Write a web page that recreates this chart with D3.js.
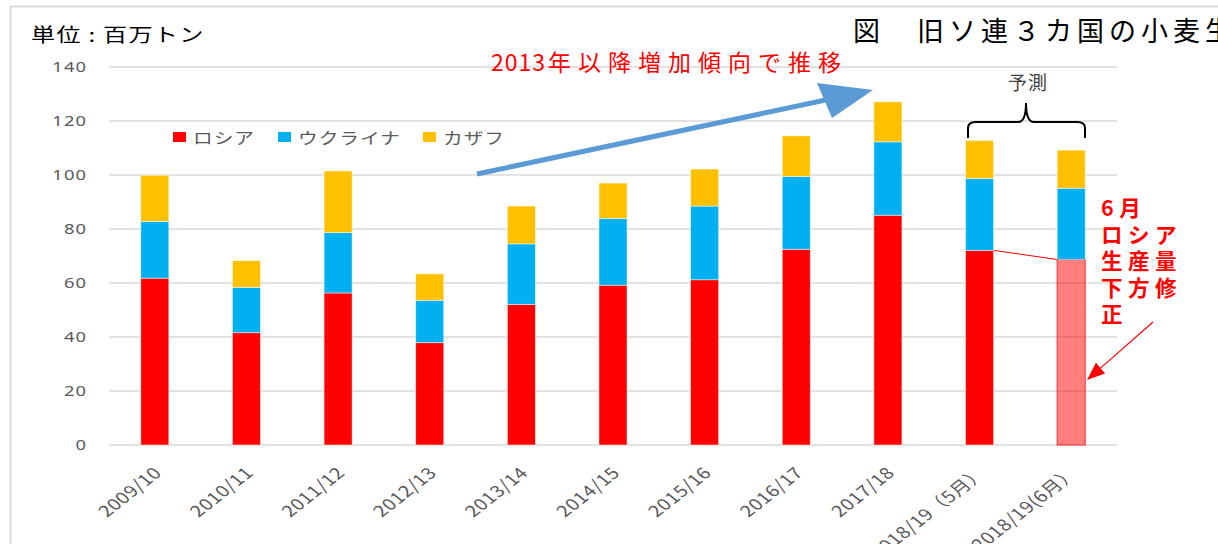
<!DOCTYPE html>
<html>
<head>
<meta charset="utf-8">
<script src="https://cdn.jsdelivr.net/npm/d3@7"></script>
<style>
  body { margin: 0; background: #fff; }
  svg { display: block; font-family: "Noto Sans CJK JP", "Noto Sans", sans-serif; }
</style>
</head>
<body>
<svg id="chart" width="1218" height="544"></svg>
<script>
// data (million tonnes)
const categories = ['2009/10', '2010/11', '2011/12', '2012/13', '2013/14', '2014/15',
  '2015/16', '2016/17', '2017/18', '2018/19（5月）', '2018/19(6月）'];
const russia     = [61.8, 41.6, 56.3, 37.9, 52.1, 59.2, 61.2, 72.5, 85.1, 72.1, 68.7];
const ukraine    = [21.0, 16.8, 22.4, 15.7, 22.4, 24.7, 27.3, 27.0, 27.2, 26.6, 26.4];
const kazakhstan = [17.1,  9.9, 22.8,  9.8, 14.0, 13.1, 13.7, 15.0, 14.8, 14.1, 14.1];
const seriesNames = ['ロシア', 'ウクライナ', 'カザフ'];
const yTicks = [0, 20, 40, 60, 80, 100, 120, 140];

const colors = ['#ff0000', '#00b0f0', '#ffc000'];
const sx = 1.27; // chart text is stretched sideways in the original
const svg = d3.select('#chart');

const table = categories.map((c, i) => ({
  cat: c, ロシア: russia[i], ウクライナ: ukraine[i], カザフ: kazakhstan[i]
}));
const stacked = d3.stack().keys(seriesNames)(table);

const x = d3.scaleBand()
  .domain(categories)
  .range([109, 1117])
  .paddingInner(0.694)
  .paddingOuter(0.347);
const y = d3.scaleLinear().domain([0, 140]).range([445, 67]);
const bw = x.bandwidth();

// frame
svg.append('line').attr('x1', 10).attr('x2', 1218).attr('y1', 6.5).attr('y2', 6.5)
  .attr('stroke', '#d9d9d9').attr('stroke-width', 2);
svg.append('line').attr('x1', 10.5).attr('x2', 10.5).attr('y1', 6).attr('y2', 544)
  .attr('stroke', '#d9d9d9').attr('stroke-width', 2);

// grid
svg.append('g').selectAll('line')
  .data(yTicks)
  .join('line')
    .attr('x1', 109).attr('x2', 1117)
    .attr('y1', d => y(d)).attr('y2', d => y(d))
    .attr('stroke', '#d9d9d9').attr('stroke-width', 1.5);

// y axis labels
svg.append('g').selectAll('text')
  .data(yTicks)
  .join('text')
    .attr('transform', d => `translate(87,${y(d)}) scale(${sx},1)`)
    .attr('text-anchor', 'end')
    .attr('dy', '0.35em')
    .attr('fill', '#595959')
    .style('font-size', '14.5px')
    .style('letter-spacing', '0.8px')
    .style('font-family', '"Noto Sans", sans-serif')
    .text(d => d);

// bars
const layers = svg.append('g').selectAll('g')
  .data(stacked)
  .join('g')
    .attr('fill', (d, i) => colors[i]);

layers.selectAll('rect')
  .data(d => d)
  .join('rect')
    .attr('x', d => x(d.data.cat))
    .attr('y', d => y(d[1]))
    .attr('width', bw)
    .attr('height', d => y(d[0]) - y(d[1]))
    .attr('stroke', 'rgba(255,255,255,0.6)')
    .attr('stroke-width', 0.8);

// revised Russia bar (June)
const last = categories[categories.length - 1];
layers.filter((d, i) => i === 0).selectAll('rect')
  .filter(d => d.data.cat === last)
  .attr('fill', 'rgba(255,0,0,0.5)')
  .attr('stroke', '#ff3030')
  .attr('stroke-width', 1);

// x labels
svg.append('g').selectAll('text')
  .data(categories)
  .join('text')
    .attr('transform', d => `translate(${x(d) + bw / 2 + 3},470) scale(${sx},1) rotate(-45)`)
    .attr('text-anchor', 'end')
    .attr('dy', '0.35em')
    .attr('fill', '#595959')
    .style('font-size', '16px')
    .style('letter-spacing', '0.4px')
    .text(d => d);

// titles
svg.append('text')
  .attr('transform', `translate(31,42) scale(${sx},1)`)
  .style('font-size', '19px')
  .style('letter-spacing', '1px')
  .attr('fill', '#000')
  .text('単位 : 百万トン');

svg.append('text')
  .attr('x', 853).attr('y', 41)
  .style('font-size', '27px')
  .style('letter-spacing', '5px')
  .attr('fill', '#000')
  .text('図　旧ソ連３カ国の小麦生産量');

// legend
const legend = svg.append('g').selectAll('g')
  .data(seriesNames)
  .join('g')
    .attr('transform', (d, i) => `translate(${[173, 278, 423][i]},132)`);
legend.append('rect')
  .attr('width', 13).attr('height', 10)
  .attr('fill', (d, i) => colors[i]);
legend.append('text')
  .attr('transform', `translate(20,11.5) scale(${sx},1)`)
  .attr('fill', '#595959')
  .style('font-size', '15.5px')
  .style('letter-spacing', '0.8px')
  .text(d => d);

// trend arrow
const ax0 = 477, ay0 = 174, ax1 = 873, ay1 = 90;
const ang = Math.atan2(ay1 - ay0, ax1 - ax0);
svg.append('line')
  .attr('x1', ax0).attr('y1', ay0)
  .attr('x2', ax1 - 40 * Math.cos(ang)).attr('y2', ay1 - 40 * Math.sin(ang))
  .attr('stroke', '#5b9bd5').attr('stroke-width', 5);
svg.append('polygon')
  .attr('points', `${ax1},${ay1} 817,83 832,118`)
  .attr('fill', '#5b9bd5');

const trend = svg.append('text')
  .attr('x', 491).attr('y', 71)
  .attr('fill', '#ff0000')
  .style('font-size', '23px');
trend.append('tspan').style('letter-spacing', '1px').text('2013');
trend.append('tspan').attr('dx', 2).style('letter-spacing', '7px').text('年以降増加傾向で推移');

// forecast brace
svg.append('path')
  .attr('d', 'M968,138 L968,128 Q968,122 976,122 L1018,122 Q1026,122 1026,103 Q1026,122 1034,122 L1077,122 Q1085,122 1085,128 L1085,138')
  .attr('fill', 'none')
  .attr('stroke', '#000')
  .attr('stroke-width', 2);
svg.append('text')
  .attr('x', 1008).attr('y', 90)
  .attr('fill', '#404040')
  .style('font-size', '19px')
  .style('letter-spacing', '1px')
  .text('予測');

// revision link line
const i10 = categories.length - 2;
svg.append('line')
  .attr('x1', x(categories[i10]) + bw).attr('y1', y(russia[i10]))
  .attr('x2', x(last)).attr('y2', y(russia[i10 + 1]))
  .attr('stroke', '#ff0000').attr('stroke-width', 1);

// revision note
const note = ['6月', 'ロシア', '生産量', '下方修', '正'];
svg.append('g').selectAll('text')
  .data(note)
  .join('text')
    .attr('x', 1101)
    .attr('y', (d, i) => 216 + i * 26.5)
    .attr('fill', '#ff0000')
    .style('font-size', '21.5px')
    .style('font-weight', 'bold')
    .style('letter-spacing', '5.5px')
    .text(d => d);

// red pointer arrow
const rx0 = 1153, ry0 = 322, rx1 = 1087, ry1 = 380;
const ra = Math.atan2(ry1 - ry0, rx1 - rx0);
const hl = 18, hw = 7;
const bx = rx1 - hl * Math.cos(ra), by = ry1 - hl * Math.sin(ra);
svg.append('line')
  .attr('x1', rx0).attr('y1', ry0).attr('x2', bx).attr('y2', by)
  .attr('stroke', '#ff0000').attr('stroke-width', 1.2);
svg.append('polygon')
  .attr('points', [
    [rx1, ry1],
    [bx + hw * Math.sin(ra), by - hw * Math.cos(ra)],
    [bx - hw * Math.sin(ra), by + hw * Math.cos(ra)]
  ].map(p => p.join(',')).join(' '))
  .attr('fill', '#ff0000');
</script>
</body>
</html>
